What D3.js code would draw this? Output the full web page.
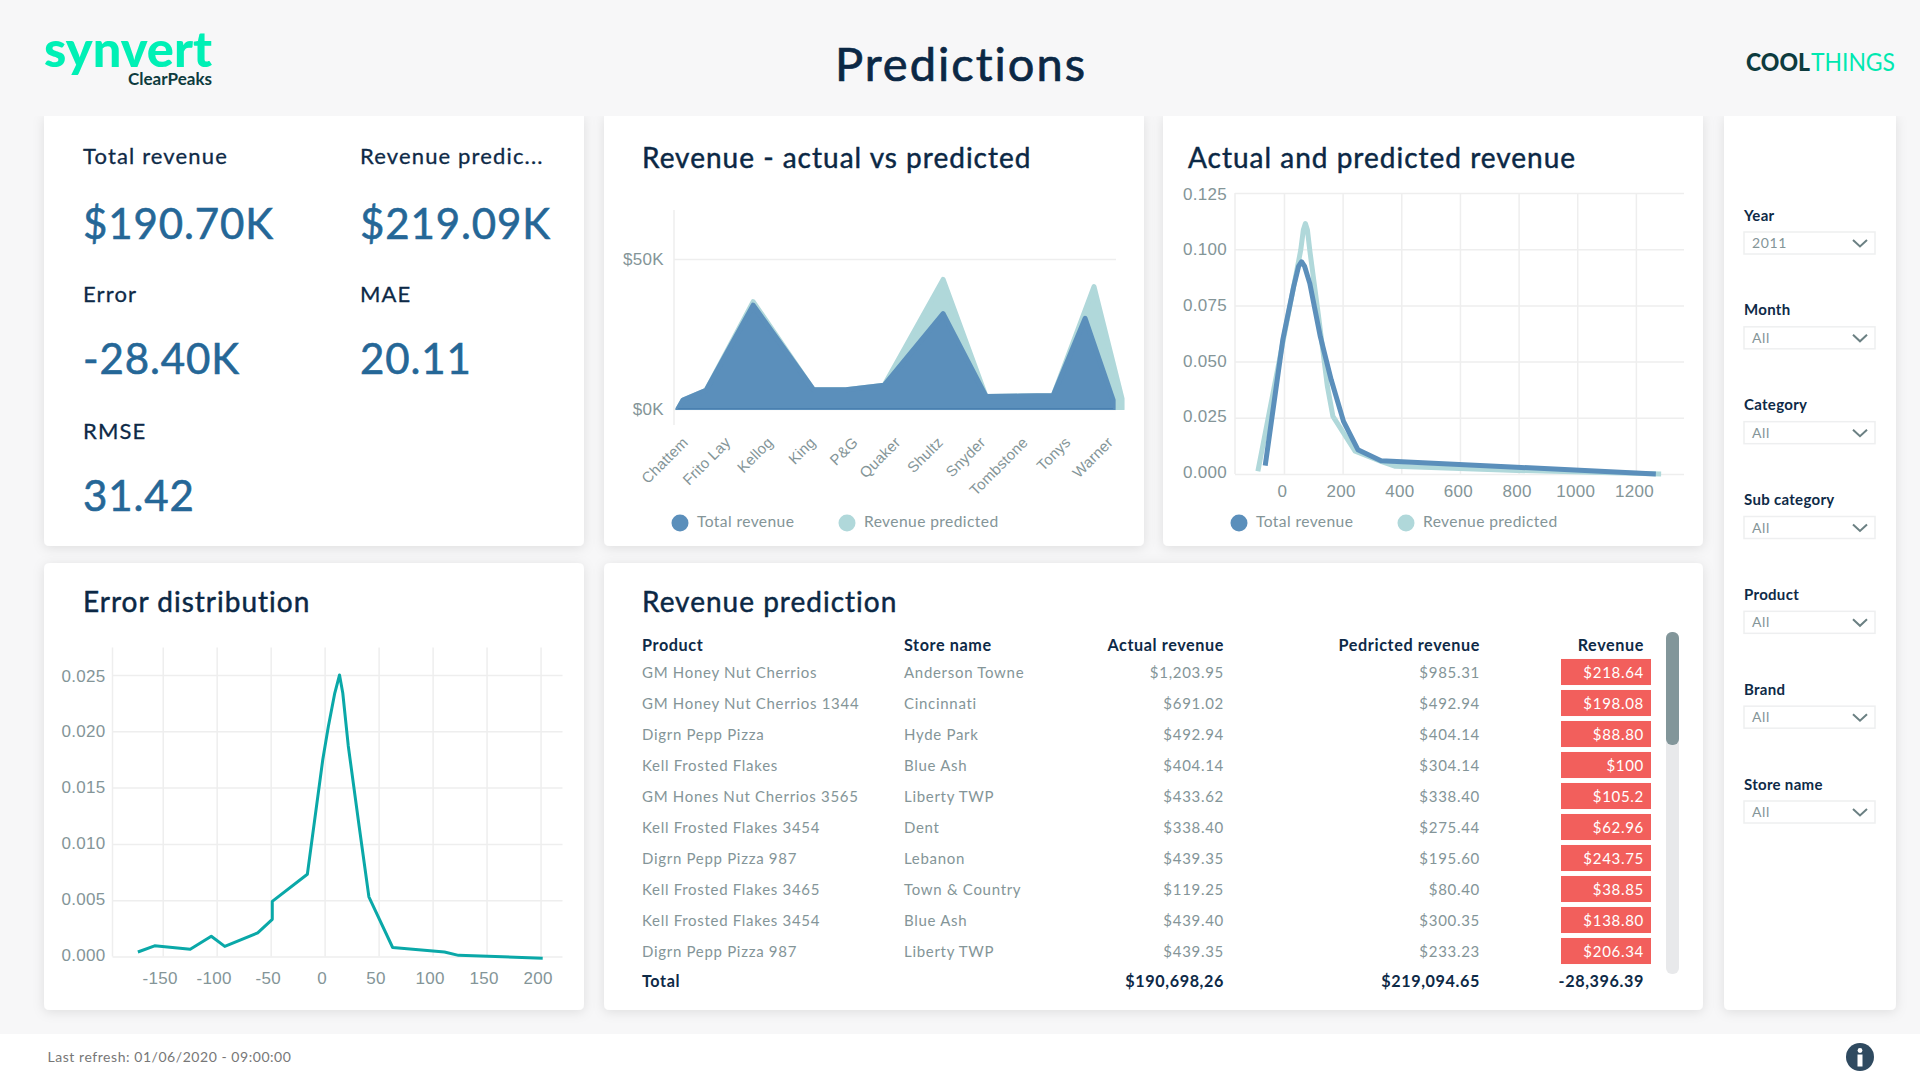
<!DOCTYPE html>
<html>
<head>
<meta charset="utf-8">
<title>Predictions</title>
<script src="https://cdn.jsdelivr.net/npm/d3@7"></script>
<style>
  html, body { margin: 0; padding: 0; background: #f7f7f8; }
  svg { display: block; font-family: Lato, "Open Sans", sans-serif; }
  .tick line { stroke: #eeeeee; }
  .tick text { fill: #849598; font-size: 17px; letter-spacing: .3px; }
  .domain { display: none; }
  .title { fill: #0b2845; stroke: #0b2845; stroke-width: .45px; font-size: 28px; font-weight: 400; letter-spacing: 1px; }
  .legend { fill: #849598; font-size: 15.6px; letter-spacing: .4px; }
</style>
</head>
<body>
<svg id="page" width="1920" height="1080"></svg>
<script>
// kpis
const kpiLabels = ["Total revenue", "Revenue predic...", "Error", "MAE", "RMSE"];
const kpiValues = ["$190.70K", "$219.09K", "-28.40K", "20.11", "31.42"];

// revenue by brand (K$), the points sit a bit off the labels in the original
const brands = ["Chattem", "Frito Lay", "Kellog", "King", "P&G", "Quaker", "Shultz", "Snyder", "Tombstone", "Tonys", "Warner"];
const totalPos = [-0.19, -0.07, 0.47, 1.58, 3.0, 3.76, 4.66, 6.05, 7.06, 7.86, 8.64, 9.39, 10.05, 10.05];
const totalRev = [0, 3, 6.2, 34.6, 6.4, 6.4, 7.9, 31.8, 4.2, 4.3, 4.5, 30.2, 3, 0];
const predPos = [-0.19, -0.07, 0.47, 1.58, 3.0, 3.76, 4.66, 6.05, 7.06, 8.64, 9.6, 10.26, 10.26];
const predRev = [0, 3, 6.2, 35.8, 6.4, 6.4, 7.9, 43.2, 4.2, 4.5, 40.8, 3.5, 0];

// density of actual and predicted revenue
const densTotalX = [-64, -4, 33, 50, 60, 70, 88, 124, 161, 203, 252, 331, 793, 1268];
const densTotalY = [.0037, .0597, .0833, .0925, .0944, .0925, .0848, .0611, .0419, .0234, .0108, .0059, .003, 0];
const densPredX = [-89, 57, 66, 73, 80, 88, 118, 148, 167, 243, 331, 380, 793, 1286];
const densPredY = [.0012, .0995, .1085, .1114, .1085, .0995, .07, .039, .0256, .0101, .0056, .0034, .0016, 0];

// error distribution
const errorX = [-173, -157.5, -124.5, -105, -92.5, -62, -48.5, -48.5, -16, -1.7, 3.4, 9.4, 13.8, 16.8, 21.9, 32, 41, 63, 111, 124, 202];
const errorY = [.0004, .00095, .00065, .0018, .0009, .0021, .0033, .0049, .0073, .0175, .0204, .0234, .025, .0234, .0187, .01155, .0053, .0008, .0004, .0001, -.00015];

// table
const products = ["GM Honey Nut Cherrios", "GM Honey Nut Cherrios 1344", "Digrn Pepp Pizza", "Kell Frosted Flakes", "GM Hones Nut Cherrios 3565", "Kell Frosted Flakes 3454", "Digrn Pepp Pizza 987", "Kell Frosted Flakes 3465", "Kell Frosted Flakes 3454", "Digrn Pepp Pizza 987"];
const stores = ["Anderson Towne", "Cincinnati", "Hyde Park", "Blue Ash", "Liberty TWP", "Dent", "Lebanon", "Town & Country", "Blue Ash", "Liberty TWP"];
const actuals = ["$1,203.95", "$691.02", "$492.94", "$404.14", "$433.62", "$338.40", "$439.35", "$119.25", "$439.40", "$439.35"];
const predicted = ["$985.31", "$492.94", "$404.14", "$304.14", "$338.40", "$275.44", "$195.60", "$80.40", "$300.35", "$233.23"];
const diffs = ["$218.64", "$198.08", "$88.80", "$100", "$105.2", "$62.96", "$243.75", "$38.85", "$138.80", "$206.34"];
const tableHead = ["Product", "Store name", "Actual revenue", "Pedricted revenue", "Revenue"];
const tableTotal = ["Total", "", "$190,698,26", "$219,094.65", "-28,396.39"];

// filters
const filterNames = ["Year", "Month", "Category", "Sub category", "Product", "Brand", "Store name"];
const filterValues = ["2011", "All", "All", "All", "All", "All", "All"];

const blue = "#5b8fbb", teal = "#b0d8da";
const svg = d3.select("#page");

const defs = svg.append("defs");
const shadow = defs.append("filter").attr("id", "shadow")
  .attr("x", "-10%").attr("y", "-10%").attr("width", "120%").attr("height", "120%");
shadow.append("feDropShadow").attr("dx", 0).attr("dy", 2).attr("stdDeviation", 6)
  .attr("flood-color", "#000").attr("flood-opacity", .1);
defs.append("clipPath").attr("id", "areaClip").append("rect")
  .attr("x", 660).attr("y", 200).attr("width", 480).attr("height", 210);

function card(x0, y0, x1, y1, flatTop) {
  const r = 6;
  const d = flatTop
    ? `M${x0},${y0}H${x1}V${y1 - r}Q${x1},${y1} ${x1 - r},${y1}H${x0 + r}Q${x0},${y1} ${x0},${y1 - r}Z`
    : `M${x0 + r},${y0}H${x1 - r}Q${x1},${y0} ${x1},${y0 + r}V${y1 - r}Q${x1},${y1} ${x1 - r},${y1}H${x0 + r}Q${x0},${y1} ${x0},${y1 - r}V${y0 + r}Q${x0},${y0} ${x0 + r},${y0}Z`;
  svg.append("path").attr("d", d).attr("fill", "#fff").attr("filter", "url(#shadow)");
}

card(44, 116, 584, 546, true);
card(604, 116, 1144, 546, true);
card(1163, 116, 1703, 546, true);
card(1724, 116, 1896, 1010, true);
card(44, 563, 584, 1010, false);
card(604, 563, 1703, 1010, false);

// header and footer over the card shadows
svg.append("rect").attr("width", 1920).attr("height", 116).attr("fill", "#f7f7f8");
svg.append("rect").attr("y", 1034).attr("width", 1920).attr("height", 46).attr("fill", "#fff");

svg.append("text").attr("x", 961).attr("y", 81).attr("text-anchor", "middle")
  .attr("fill", "#0b2845").attr("stroke", "#0b2845").attr("stroke-width", .7)
  .attr("font-size", 47).attr("letter-spacing", 2)
  .text("Predictions");

svg.append("text").attr("x", 44).attr("y", 67).attr("fill", "#00f0b5")
  .attr("font-size", 50).attr("font-weight", 900).attr("textLength", 168).attr("lengthAdjust", "spacingAndGlyphs")
  .text("synvert");
svg.append("text").attr("x", 128).attr("y", 85).attr("fill", "#0d3b3e")
  .attr("font-size", 17).attr("font-weight", 700).attr("textLength", 84).attr("lengthAdjust", "spacingAndGlyphs")
  .text("ClearPeaks");
svg.append("text").attr("x", 1746).attr("y", 71).attr("fill", "#0d3b3e")
  .attr("font-size", 25).attr("font-weight", 900).attr("textLength", 64).attr("lengthAdjust", "spacingAndGlyphs")
  .text("COOL");
svg.append("text").attr("x", 1811).attr("y", 71).attr("fill", "#00e8b0")
  .attr("font-size", 25).attr("font-weight", 400).attr("textLength", 84).attr("lengthAdjust", "spacingAndGlyphs")
  .text("THINGS");

// kpi block
const kpiX = [83, 360, 83, 360, 83];
const kpiLabelY = [164, 164, 302, 302, 439];
const kpiValueY = [239, 239, 374, 374, 511];
svg.selectAll(".kpi-label").data(kpiLabels).join("text").attr("class", "kpi-label")
  .attr("x", (d, i) => kpiX[i]).attr("y", (d, i) => kpiLabelY[i])
  .attr("fill", "#0e2a47").attr("stroke", "#0e2a47").attr("stroke-width", .3)
  .attr("font-size", 22).attr("letter-spacing", 1.15)
  .text(d => d);
svg.selectAll(".kpi-value").data(kpiValues).join("text").attr("class", "kpi-value")
  .attr("x", (d, i) => kpiX[i]).attr("y", (d, i) => kpiValueY[i])
  .attr("fill", "#256797").attr("stroke", "#256797").attr("stroke-width", .6)
  .attr("font-size", 42).attr("letter-spacing", .9)
  .text(d => d);

function title(x, y, s) {
  svg.append("text").attr("class", "title").attr("x", x).attr("y", y).text(s);
}
function legend(x1, x2, names) {
  const g = svg.append("g");
  const xs = [x1, x2], cols = [blue, teal];
  names.forEach((n, i) => {
    g.append("circle").attr("cx", xs[i]).attr("cy", 523).attr("r", 8.5).attr("fill", cols[i]);
    g.append("text").attr("class", "legend").attr("x", xs[i] + 17).attr("y", 527).text(n);
  });
}
// the y tick labels sit slightly tighter than the gridlines
const nudgeLabels = (g, max) => g.selectAll("text").attr("dy", d => 5.5 + (d / max) * 2.5 - 2);
const minusFormat = d => String(d);

// revenue - actual vs predicted
title(642, 168, "Revenue - actual vs predicted");
const xBrand = d3.scaleLinear().domain([0, 10]).range([686, 1111]);
const yRev = d3.scaleLinear().domain([0, 50]).range([409, 259]);
svg.append("line").attr("x1", 674).attr("x2", 674).attr("y1", 210).attr("y2", 425).attr("stroke", "#eeeeee").attr("stroke-width", 1.5);
svg.append("g").attr("transform", "translate(674,0)")
  .call(d3.axisLeft(yRev).tickValues([0, 50]).tickFormat(d => "$" + d + "K").tickSize(-442).tickPadding(10))
  .call(g => g.selectAll("line").attr("stroke-width", 1.5));
const revArea = pos => d3.area()
  .x((d, i) => xBrand(pos[i])).y0(yRev(0)).y1(d => yRev(d));
[[predRev, predPos, teal], [totalRev, totalPos, blue]].forEach(([vals, pos, col]) => {
  svg.append("path").attr("d", revArea(pos)(vals)).attr("fill", col)
    .attr("stroke", col).attr("stroke-width", 5).attr("stroke-linejoin", "round")
    .attr("clip-path", "url(#areaClip)");
});
svg.append("line").attr("x1", xBrand(-0.19)).attr("x2", xBrand(10.05)).attr("y1", 408.5).attr("y2", 408.5).attr("stroke", "#4a80b0").attr("stroke-width", 1);
svg.append("g").attr("transform", "translate(-5,436)")
  .call(d3.axisBottom(xBrand).tickValues(d3.range(brands.length)).tickFormat(i => brands[i]).tickSize(0).tickPadding(0))
  .call(g => g.selectAll("text").attr("text-anchor", "end").attr("dy", ".7em")
    .attr("transform", "rotate(-45)").style("font-size", "15px").style("letter-spacing", ".2px"));
legend(680, 847, ["Total revenue", "Revenue predicted"]);

// actual and predicted revenue
title(1188, 168, "Actual and predicted revenue");
const xDens = d3.scaleLinear().domain([-167, 1364]).range([1235, 1684]);
const yDens = d3.scaleLinear().domain([0, .125]).range([474, 193]);
svg.append("g").attr("transform", "translate(1235,0)")
  .call(d3.axisLeft(yDens).tickValues([0, .025, .05, .075, .1, .125]).tickFormat(d3.format(".3f")).tickSize(-449).tickPadding(8))
  .call(g => g.selectAll("line").attr("stroke-width", 1.5))
  .call(g => nudgeLabels(g, .125));
svg.append("g").attr("transform", "translate(0,474)")
  .call(d3.axisBottom(xDens).tickValues([0, 200, 400, 600, 800, 1000, 1200]).tickSize(-281).tickPadding(11).tickFormat(minusFormat))
  .call(g => g.selectAll("line").attr("stroke-width", 1.5))
  .call(g => g.selectAll("text").attr("dx", -2));
svg.append("line").attr("x1", 1235).attr("x2", 1235).attr("y1", 193).attr("y2", 474).attr("stroke", "#eeeeee").attr("stroke-width", 1.5);
const densLine = xs => d3.line().x((d, i) => xDens(xs[i])).y(d => yDens(d));
svg.append("path").attr("d", densLine(densPredX)(densPredY)).attr("fill", "none")
  .attr("stroke", teal).attr("stroke-width", 5).attr("stroke-linejoin", "round");
svg.append("path").attr("d", densLine(densTotalX)(densTotalY)).attr("fill", "none")
  .attr("stroke", blue).attr("stroke-width", 5).attr("stroke-linejoin", "round");
legend(1239, 1406, ["Total revenue", "Revenue predicted"]);

// error distribution
title(83, 612, "Error distribution");
const xErr = d3.scaleLinear().domain([-196.5, 220.8]).range([112.5, 563]);
const yErr = d3.scaleLinear().domain([0, .025]).range([956.5, 675]);
svg.append("g").attr("transform", "translate(112.5,0)")
  .call(d3.axisLeft(yErr).tickValues([0, .005, .01, .015, .02, .025]).tickFormat(d3.format(".3f")).tickSize(-450).tickPadding(7))
  .call(g => g.selectAll("line").attr("stroke-width", 1.5))
  .call(g => nudgeLabels(g, .025));
svg.append("g").attr("transform", "translate(0,956.5)")
  .call(d3.axisBottom(xErr).tickValues([-150, -100, -50, 0, 50, 100, 150, 200]).tickFormat(minusFormat).tickSize(-309).tickPadding(15))
  .call(g => g.selectAll("line").attr("stroke-width", 1.5))
  .call(g => g.selectAll("text").attr("dx", -3));
svg.append("line").attr("x1", 112.5).attr("x2", 112.5).attr("y1", 647.5).attr("y2", 956.5).attr("stroke", "#eeeeee").attr("stroke-width", 1.5);
svg.append("path").attr("fill", "none").attr("stroke", "#0aa8a8").attr("stroke-width", 3).attr("stroke-linejoin", "round")
  .attr("d", d3.line().x((d, i) => xErr(errorX[i])).y(d => yErr(d))(errorY));

// revenue prediction table
title(642, 612, "Revenue prediction");
const rowY = d3.scaleBand().domain(d3.range(products.length)).range([656.5, 966.5]).paddingInner(.16).paddingOuter(.08);
const colX = [642, 904, 1224, 1480, 1644];
const colAnchor = ["start", "start", "end", "end", "end"];
const columns = [products, stores, actuals, predicted, diffs];

svg.selectAll(".diff-box").data(diffs).join("rect").attr("class", "diff-box")
  .attr("x", 1561).attr("width", 90)
  .attr("y", (d, i) => rowY(i)).attr("height", rowY.bandwidth())
  .attr("fill", "#f25f5c");

columns.forEach((col, c) => {
  svg.selectAll(".col" + c).data(col).join("text").attr("class", "col" + c)
    .attr("x", colX[c]).attr("y", (d, i) => rowY(i) + rowY.bandwidth() / 2 + 5.5)
    .attr("text-anchor", colAnchor[c])
    .attr("fill", c === 4 ? "#fff" : "#849598").attr("font-size", 15).attr("letter-spacing", .7)
    .text(d => d);
});
[[tableHead, 651], [tableTotal, 987]].forEach(([row, y]) => {
  svg.selectAll(null).data(row).join("text")
    .attr("x", (d, i) => colX[i]).attr("y", y).attr("text-anchor", (d, i) => colAnchor[i])
    .attr("fill", "#0e2a47").attr("font-size", 16.2).attr("font-weight", 700).attr("letter-spacing", .6)
    .text(d => d);
});

// scrollbar
svg.append("rect").attr("x", 1666).attr("y", 632).attr("width", 13).attr("height", 342).attr("rx", 6).attr("fill", "#e8e9eb");
svg.append("rect").attr("x", 1666).attr("y", 632).attr("width", 13).attr("height", 113).attr("rx", 6).attr("fill", "#82969a");

// filter panel
const filterY = d3.scalePoint().domain(filterNames).range([232, 801]);
const filters = svg.selectAll(".filter").data(filterNames).join("g").attr("class", "filter")
  .attr("transform", d => `translate(1744,${filterY(d)})`);
filters.append("text").attr("y", -11.5).attr("fill", "#0e2a47").attr("font-size", 15).attr("font-weight", 700).attr("letter-spacing", .3)
  .text(d => d);
filters.append("rect").attr("width", 131).attr("height", 22).attr("fill", "#fff").attr("stroke", "#eeeff0").attr("stroke-width", 1.5);
filters.append("text").attr("x", 8).attr("y", 16).attr("fill", "#849598").attr("font-size", 14).attr("letter-spacing", .6)
  .text((d, i) => filterValues[i]);
filters.append("path").attr("d", "M109,8L116,14.5L123,8").attr("fill", "none").attr("stroke", "#6b8083").attr("stroke-width", 2);

// footer
svg.append("text").attr("x", 47.5).attr("y", 1062).attr("fill", "#777").attr("font-size", 14).attr("letter-spacing", .55)
  .text("Last refresh: 01/06/2020 - 09:00:00");
svg.append("circle").attr("cx", 1860).attr("cy", 1057).attr("r", 14).attr("fill", "#2f4a60");
svg.append("circle").attr("cx", 1860).attr("cy", 1050.5).attr("r", 2.4).attr("fill", "#fff");
svg.append("rect").attr("x", 1857.5).attr("y", 1054.5).attr("width", 5).attr("height", 12).attr("fill", "#fff");
</script>
</body>
</html>
